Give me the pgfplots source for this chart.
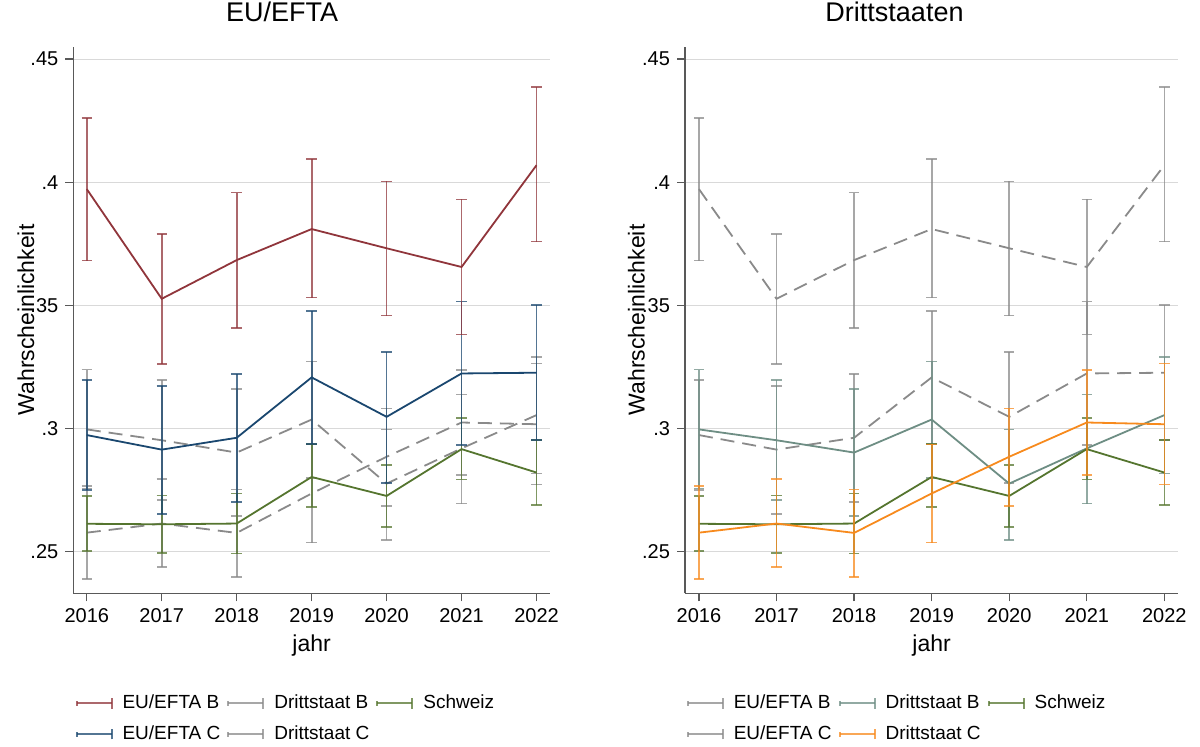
\documentclass[border=0pt]{standalone}
\usepackage{fontspec}
\setmainfont{Liberation Sans}
\usepackage{pgfplots}
\usepackage{pgfplotstable}
\pgfplotsset{compat=1.18}

\definecolor{cred}{HTML}{90353B}
\definecolor{cnavy}{HTML}{1A476F}
\definecolor{cgreen}{HTML}{55752F}
\definecolor{cteal}{HTML}{6E8E84}
\definecolor{corange}{HTML}{F78A1D}
\definecolor{cgray}{HTML}{8A8A8A}

% x = jahr, y = Punktschaetzer, lo/hi = Konfidenzintervall
\pgfplotstableread{
x y lo hi
2016 0.3972 0.3682 0.4260
2017 0.3527 0.3262 0.3789
2018 0.3684 0.3408 0.3958
2019 0.3810 0.3532 0.4093
2020 0.3732 0.3459 0.4003
2021 0.3656 0.3382 0.3930
2022 0.4069 0.3759 0.4386
}\EUB
\pgfplotstableread{
x y lo hi
2016 0.2974 0.2750 0.3198
2017 0.2915 0.2653 0.3174
2018 0.2963 0.2702 0.3223
2019 0.3208 0.2937 0.3478
2020 0.3048 0.2780 0.3310
2021 0.3224 0.2933 0.3516
2022 0.3227 0.2953 0.3503
}\EUC
\pgfplotstableread{
x y lo hi
2016 0.2997 0.2757 0.3240
2017 0.2953 0.2710 0.3197
2018 0.2903 0.2645 0.3160
2019 0.3037 0.2800 0.3273
2020 0.2777 0.2547 0.2997
2021 0.2920 0.2696 0.3139
2022 0.3055 0.2818 0.3292
}\DB
\pgfplotstableread{
x y lo hi
2016 0.2578 0.2389 0.2768
2017 0.2615 0.2439 0.2796
2018 0.2577 0.2399 0.2753
2019 0.2737 0.2538 0.2936
2020 0.2886 0.2685 0.3082
2021 0.3025 0.2813 0.3237
2022 0.3018 0.2773 0.3265
}\DC
\pgfplotstableread{
x y lo hi
2016 0.2614 0.2503 0.2726
2017 0.2612 0.2495 0.2729
2018 0.2615 0.2493 0.2737
2019 0.2804 0.2683 0.2937
2020 0.2727 0.2601 0.2852
2021 0.2917 0.2794 0.3044
2022 0.2822 0.2689 0.2953
}\CH

\pgfplotsset{
  panel/.style={
    scale only axis, height=273.3pt,
    xmin=2015.82, xmax=2022.18, ymin=0.2332, ymax=0.455,
    axis lines*=left,
    axis line style={black!65, line width=0.6pt},
    tick align=outside, major tick length=4pt,
    tick style={black!65, line width=0.6pt},
    xtick={2016,2017,2018,2019,2020,2021,2022},
    xticklabels={2016,2017,2018,2019,2020,2021,2022},
    ytick={0.25,0.3,0.35,0.4,0.45},
    yticklabels={.25,.3,.35,.4,.45},
    ymajorgrids, grid style={black!15, line width=0.5pt},
    tick label style={font=\fontsize{10}{12}\selectfont},
    label style={font=\fontsize{11.5}{13}\selectfont},
    xlabel={jahr}, ylabel={Wahrscheinlichkeit},
    xlabel style={at={(0.5,-0.1056)}, anchor=base},
    title style={font=\fontsize{13.5}{16}\selectfont, anchor=base},
    legend columns=3,
    legend cell align=left,
    legend style={draw=none, fill=none, anchor=north, inner sep=0pt,
      font=\fontsize{9.5}{11}\selectfont, row sep=3pt,
      /tikz/every odd column/.append style={column sep=3pt},
      /tikz/every even column/.append style={column sep=1.5pt}},
    legend image code/.code={
      \draw[##1, solid, line width=1pt, opacity=0.75] (0pt,0pt) -- (17.5pt,0pt);
      \draw[##1, solid, line width=1pt, opacity=0.75] (0pt,-1.2pt) -- (0pt,1.2pt);
      \draw[##1, solid, line width=1pt, opacity=0.75] (17.5pt,-2.6pt) -- (17.5pt,2.6pt);
    },
  },
  ci/.style={
    line width=0.9pt,
    error bars/y dir=both, error bars/y explicit,
    error bars/error bar style={solid, line width=0.85pt, opacity=0.75},
    error bars/error mark options={rotate=90, solid, mark size=2.6pt, line width=0.85pt, opacity=0.75},
  },
  gr/.style={cgray, dash pattern=on 7pt off 4pt},
}

\newcommand{\series}[2]{%
  \addplot[#1, ci, forget plot] table[x=x, y=y,
    y error plus expr=\thisrow{hi}-\thisrow{y},
    y error minus expr=\thisrow{y}-\thisrow{lo}] {#2};}

\begin{document}
\begin{tikzpicture}
\useasboundingbox (0,0) rectangle (600pt,373.5pt);

\begin{axis}[panel, at={(36.65pt,76.85pt)}, anchor=south west, width=238.35pt,
  title={EU/EFTA}, title style={at={(0.438,1.025)}},
  ylabel style={at={(-0.0824,0.5)}, anchor=base},
  legend style={at={(0.448,-0.178)}}]
  \series{gr}{\DC}
  \series{gr}{\DB}
  \series{cgreen}{\CH}
  \series{cnavy}{\EUC}
  \series{cred}{\EUB}
  \addlegendimage{cred}
  \addlegendimage{cgray}
  \addlegendimage{cgreen}
  \addlegendimage{cnavy}
  \addlegendimage{cgray}
  \legend{EU/EFTA B, Drittstaat B, Schweiz, EU/EFTA C, Drittstaat C}
\end{axis}

\begin{axis}[panel, at={(342.5pt,76.85pt)}, anchor=south west, width=246.65pt,
  title={Drittstaaten}, title style={at={(0.4247,1.025)}},
  ylabel style={at={(-0.082,0.5)}, anchor=base},
  legend style={at={(0.432,-0.178)}}]
  \series{gr}{\EUB}
  \series{gr}{\EUC}
  \series{cteal}{\DB}
  \series{cgreen}{\CH}
  \series{corange}{\DC}
  \addlegendimage{cgray}
  \addlegendimage{cteal}
  \addlegendimage{cgreen}
  \addlegendimage{cgray}
  \addlegendimage{corange}
  \legend{EU/EFTA B, Drittstaat B, Schweiz, EU/EFTA C, Drittstaat C}
\end{axis}
\end{tikzpicture}
\end{document}
